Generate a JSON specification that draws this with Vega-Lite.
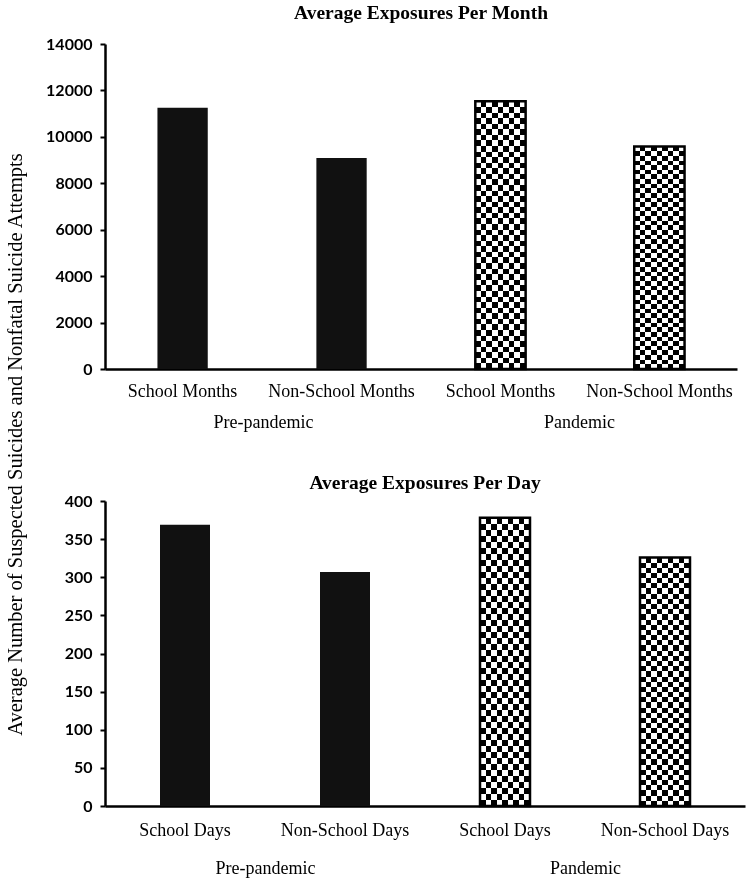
{
  "$schema": "https://vega.github.io/schema/vega-lite/v6.json",
  "background": "white",
  "padding": {"left": 5, "top": 2, "right": 4, "bottom": 2},
  "bounds": "flush",
  "spacing": 132,
  "datasets": {
    "month": [
      {"period": "Pre-pandemic", "bar": "pre:School Months", "value": 11250},
      {"period": "Pre-pandemic", "bar": "pre:Non-School Months", "value": 9090},
      {"period": "Pandemic", "bar": "pan:School Months", "value": 11530},
      {"period": "Pandemic", "bar": "pan:Non-School Months", "value": 9580}
    ],
    "day": [
      {"period": "Pre-pandemic", "bar": "pre:School Days", "value": 369},
      {"period": "Pre-pandemic", "bar": "pre:Non-School Days", "value": 307},
      {"period": "Pandemic", "bar": "pan:School Days", "value": 378},
      {"period": "Pandemic", "bar": "pan:Non-School Days", "value": 326}
    ]
  },
  "config": {
    "view": {"stroke": null},
    "axis": {"grid": false}
  },
  "vconcat": [
    {
      "data": {"name": "month"},
      "width": 632,
      "height": 325,
      "title": {"text": "Average Exposures Per Month", "font": "Liberation Serif", "fontSize": 19.5, "fontWeight": "bold", "color": "#000", "offset": 13, "frame": "group", "anchor": "middle"},
      "layer": [
        {
          "encoding": {
            "x": {"field": "bar", "type": "nominal", "scale": {"domain": ["pre:School Months", "pre:Non-School Months", "pan:School Months", "pan:Non-School Months"], "paddingInner": 0.6835, "paddingOuter": 0.33},
              "axis": {"title": null, "labelExpr": "split(datum.value, ':')[1]", "labelAngle": 0, "labelFont": "Liberation Serif", "labelFontSize": 18, "labelColor": "#000", "labelPadding": 13, "ticks": false, "tickSize": 0, "domainColor": "#000", "domainWidth": 2.5, "labelOverlap": false}},
            "y": {"field": "value", "type": "quantitative", "scale": {"domain": [0, 14000]},
              "axis": {"values": [0, 2000, 4000, 6000, 8000, 10000, 12000, 14000], "format": "d", "title": "Average Number of Suspected Suicides and Nonfatal Suicide Attempts", "titleX": -90, "titleY": 400, "titleAngle": -90, "titleAlign": "center", "titleBaseline": "middle", "titleFont": "Liberation Serif", "titleFontSize": 20.5, "titleFontWeight": "normal", "titleColor": "#000", "labelFont": "Lato", "labelFontWeight": "bold", "labelFontSize": 16, "labelColor": "#000", "labelPadding": 8, "tickSize": 5, "tickWidth": 2, "tickColor": "#000", "domainColor": "#000", "domainWidth": 2.5}}
          },
          "layer": [
            {"transform": [{"filter": "datum.period === 'Pre-pandemic'"}], "mark": {"type": "bar", "color": "#111"}},
            {"transform": [{"filter": "datum.period === 'Pandemic'"}], "mark": {"type": "bar", "fill": {"gradient": "linear", "x1": 0, "y1": 0, "x2": 1, "y2": 0, "stops": [
              {"offset": 0, "color": "#000"}, {"offset": 0.1111, "color": "#000"}, {"offset": 0.1111, "color": "#fff"}, {"offset": 0.2222, "color": "#fff"},
              {"offset": 0.2222, "color": "#000"}, {"offset": 0.3333, "color": "#000"}, {"offset": 0.3333, "color": "#fff"}, {"offset": 0.4444, "color": "#fff"},
              {"offset": 0.4444, "color": "#000"}, {"offset": 0.5556, "color": "#000"}, {"offset": 0.5556, "color": "#fff"}, {"offset": 0.6667, "color": "#fff"},
              {"offset": 0.6667, "color": "#000"}, {"offset": 0.7778, "color": "#000"}, {"offset": 0.7778, "color": "#fff"}, {"offset": 0.8889, "color": "#fff"},
              {"offset": 0.8889, "color": "#000"}, {"offset": 1, "color": "#000"}]}}},
            {"transform": [{"filter": "datum.period === 'Pandemic'"}], "mark": {"type": "bar", "blend": "difference", "fill": {"gradient": "linear", "x1": 0, "y1": 0, "x2": 0, "y2": 1, "stops": [
              {"offset": 0, "color": "#fff"}, {"offset": 0.0208, "color": "#fff"}, {"offset": 0.0208, "color": "#000"}, {"offset": 0.0417, "color": "#000"},
              {"offset": 0.0417, "color": "#fff"}, {"offset": 0.0625, "color": "#fff"}, {"offset": 0.0625, "color": "#000"}, {"offset": 0.0833, "color": "#000"},
              {"offset": 0.0833, "color": "#fff"}, {"offset": 0.1042, "color": "#fff"}, {"offset": 0.1042, "color": "#000"}, {"offset": 0.125, "color": "#000"},
              {"offset": 0.125, "color": "#fff"}, {"offset": 0.1458, "color": "#fff"}, {"offset": 0.1458, "color": "#000"}, {"offset": 0.1667, "color": "#000"},
              {"offset": 0.1667, "color": "#fff"}, {"offset": 0.1875, "color": "#fff"}, {"offset": 0.1875, "color": "#000"}, {"offset": 0.2083, "color": "#000"},
              {"offset": 0.2083, "color": "#fff"}, {"offset": 0.2292, "color": "#fff"}, {"offset": 0.2292, "color": "#000"}, {"offset": 0.25, "color": "#000"},
              {"offset": 0.25, "color": "#fff"}, {"offset": 0.2708, "color": "#fff"}, {"offset": 0.2708, "color": "#000"}, {"offset": 0.2917, "color": "#000"},
              {"offset": 0.2917, "color": "#fff"}, {"offset": 0.3125, "color": "#fff"}, {"offset": 0.3125, "color": "#000"}, {"offset": 0.3333, "color": "#000"},
              {"offset": 0.3333, "color": "#fff"}, {"offset": 0.3542, "color": "#fff"}, {"offset": 0.3542, "color": "#000"}, {"offset": 0.375, "color": "#000"},
              {"offset": 0.375, "color": "#fff"}, {"offset": 0.3958, "color": "#fff"}, {"offset": 0.3958, "color": "#000"}, {"offset": 0.4167, "color": "#000"},
              {"offset": 0.4167, "color": "#fff"}, {"offset": 0.4375, "color": "#fff"}, {"offset": 0.4375, "color": "#000"}, {"offset": 0.4583, "color": "#000"},
              {"offset": 0.4583, "color": "#fff"}, {"offset": 0.4792, "color": "#fff"}, {"offset": 0.4792, "color": "#000"}, {"offset": 0.5, "color": "#000"},
              {"offset": 0.5, "color": "#fff"}, {"offset": 0.5208, "color": "#fff"}, {"offset": 0.5208, "color": "#000"}, {"offset": 0.5417, "color": "#000"},
              {"offset": 0.5417, "color": "#fff"}, {"offset": 0.5625, "color": "#fff"}, {"offset": 0.5625, "color": "#000"}, {"offset": 0.5833, "color": "#000"},
              {"offset": 0.5833, "color": "#fff"}, {"offset": 0.6042, "color": "#fff"}, {"offset": 0.6042, "color": "#000"}, {"offset": 0.625, "color": "#000"},
              {"offset": 0.625, "color": "#fff"}, {"offset": 0.6458, "color": "#fff"}, {"offset": 0.6458, "color": "#000"}, {"offset": 0.6667, "color": "#000"},
              {"offset": 0.6667, "color": "#fff"}, {"offset": 0.6875, "color": "#fff"}, {"offset": 0.6875, "color": "#000"}, {"offset": 0.7083, "color": "#000"},
              {"offset": 0.7083, "color": "#fff"}, {"offset": 0.7292, "color": "#fff"}, {"offset": 0.7292, "color": "#000"}, {"offset": 0.75, "color": "#000"},
              {"offset": 0.75, "color": "#fff"}, {"offset": 0.7708, "color": "#fff"}, {"offset": 0.7708, "color": "#000"}, {"offset": 0.7917, "color": "#000"},
              {"offset": 0.7917, "color": "#fff"}, {"offset": 0.8125, "color": "#fff"}, {"offset": 0.8125, "color": "#000"}, {"offset": 0.8333, "color": "#000"},
              {"offset": 0.8333, "color": "#fff"}, {"offset": 0.8542, "color": "#fff"}, {"offset": 0.8542, "color": "#000"}, {"offset": 0.875, "color": "#000"},
              {"offset": 0.875, "color": "#fff"}, {"offset": 0.8958, "color": "#fff"}, {"offset": 0.8958, "color": "#000"}, {"offset": 0.9167, "color": "#000"},
              {"offset": 0.9167, "color": "#fff"}, {"offset": 0.9375, "color": "#fff"}, {"offset": 0.9375, "color": "#000"}, {"offset": 0.9583, "color": "#000"},
              {"offset": 0.9583, "color": "#fff"}, {"offset": 0.9792, "color": "#fff"}, {"offset": 0.9792, "color": "#000"}, {"offset": 1, "color": "#000"}]}}},
            {"transform": [{"filter": "datum.period === 'Pandemic'"}], "mark": {"type": "bar", "filled": false, "color": "#000", "stroke": "#000", "strokeWidth": 2.5}}
          ]
        },
        {
          "mark": {"type": "point", "opacity": 0},
          "encoding": {
            "x": {"field": "period", "type": "nominal", "scale": {"type": "point", "padding": 0.5, "domain": ["Pre-pandemic", "Pandemic"]},
              "axis": {"title": null, "orient": "bottom", "domain": false, "ticks": false, "tickSize": 0, "labelAngle": 0, "labelFont": "Liberation Serif", "labelFontSize": 18, "labelColor": "#000", "labelPadding": 44}}
          }
        }
      ],
      "resolve": {"scale": {"x": "independent"}, "axis": {"x": "independent"}}
    },
    {
      "data": {"name": "day"},
      "width": 640,
      "height": 305,
      "title": {"text": "Average Exposures Per Day", "font": "Liberation Serif", "fontSize": 19.5, "fontWeight": "bold", "color": "#000", "offset": 0, "frame": "group", "anchor": "middle"},
      "layer": [
        {
          "encoding": {
            "x": {"field": "bar", "type": "nominal", "scale": {"domain": ["pre:School Days", "pre:Non-School Days", "pan:School Days", "pan:Non-School Days"], "paddingInner": 0.6875, "paddingOuter": 0.34375},
              "axis": {"title": null, "labelExpr": "split(datum.value, ':')[1]", "labelAngle": 0, "labelFont": "Liberation Serif", "labelFontSize": 18, "labelColor": "#000", "labelPadding": 15, "ticks": false, "tickSize": 0, "domainColor": "#000", "domainWidth": 2.5, "labelOverlap": false}},
            "y": {"field": "value", "type": "quantitative", "scale": {"domain": [0, 400]},
              "axis": {"values": [0, 50, 100, 150, 200, 250, 300, 350, 400], "format": "d", "title": null, "labelFont": "Lato", "labelFontWeight": "bold", "labelFontSize": 16, "labelColor": "#000", "labelPadding": 8, "tickSize": 5, "tickWidth": 2, "tickColor": "#000", "domainColor": "#000", "domainWidth": 2.5}}
          },
          "layer": [
            {"transform": [{"filter": "datum.period === 'Pre-pandemic'"}], "mark": {"type": "bar", "color": "#111"}},
            {"transform": [{"filter": "datum.period === 'Pandemic'"}], "mark": {"type": "bar", "fill": {"gradient": "linear", "x1": 0, "y1": 0, "x2": 1, "y2": 0, "stops": [
              {"offset": 0, "color": "#000"}, {"offset": 0.1111, "color": "#000"}, {"offset": 0.1111, "color": "#fff"}, {"offset": 0.2222, "color": "#fff"},
              {"offset": 0.2222, "color": "#000"}, {"offset": 0.3333, "color": "#000"}, {"offset": 0.3333, "color": "#fff"}, {"offset": 0.4444, "color": "#fff"},
              {"offset": 0.4444, "color": "#000"}, {"offset": 0.5556, "color": "#000"}, {"offset": 0.5556, "color": "#fff"}, {"offset": 0.6667, "color": "#fff"},
              {"offset": 0.6667, "color": "#000"}, {"offset": 0.7778, "color": "#000"}, {"offset": 0.7778, "color": "#fff"}, {"offset": 0.8889, "color": "#fff"},
              {"offset": 0.8889, "color": "#000"}, {"offset": 1, "color": "#000"}]}}},
            {"transform": [{"filter": "datum.period === 'Pandemic'"}], "mark": {"type": "bar", "blend": "difference", "fill": {"gradient": "linear", "x1": 0, "y1": 0, "x2": 0, "y2": 1, "stops": [
              {"offset": 0, "color": "#fff"}, {"offset": 0.0208, "color": "#fff"}, {"offset": 0.0208, "color": "#000"}, {"offset": 0.0417, "color": "#000"},
              {"offset": 0.0417, "color": "#fff"}, {"offset": 0.0625, "color": "#fff"}, {"offset": 0.0625, "color": "#000"}, {"offset": 0.0833, "color": "#000"},
              {"offset": 0.0833, "color": "#fff"}, {"offset": 0.1042, "color": "#fff"}, {"offset": 0.1042, "color": "#000"}, {"offset": 0.125, "color": "#000"},
              {"offset": 0.125, "color": "#fff"}, {"offset": 0.1458, "color": "#fff"}, {"offset": 0.1458, "color": "#000"}, {"offset": 0.1667, "color": "#000"},
              {"offset": 0.1667, "color": "#fff"}, {"offset": 0.1875, "color": "#fff"}, {"offset": 0.1875, "color": "#000"}, {"offset": 0.2083, "color": "#000"},
              {"offset": 0.2083, "color": "#fff"}, {"offset": 0.2292, "color": "#fff"}, {"offset": 0.2292, "color": "#000"}, {"offset": 0.25, "color": "#000"},
              {"offset": 0.25, "color": "#fff"}, {"offset": 0.2708, "color": "#fff"}, {"offset": 0.2708, "color": "#000"}, {"offset": 0.2917, "color": "#000"},
              {"offset": 0.2917, "color": "#fff"}, {"offset": 0.3125, "color": "#fff"}, {"offset": 0.3125, "color": "#000"}, {"offset": 0.3333, "color": "#000"},
              {"offset": 0.3333, "color": "#fff"}, {"offset": 0.3542, "color": "#fff"}, {"offset": 0.3542, "color": "#000"}, {"offset": 0.375, "color": "#000"},
              {"offset": 0.375, "color": "#fff"}, {"offset": 0.3958, "color": "#fff"}, {"offset": 0.3958, "color": "#000"}, {"offset": 0.4167, "color": "#000"},
              {"offset": 0.4167, "color": "#fff"}, {"offset": 0.4375, "color": "#fff"}, {"offset": 0.4375, "color": "#000"}, {"offset": 0.4583, "color": "#000"},
              {"offset": 0.4583, "color": "#fff"}, {"offset": 0.4792, "color": "#fff"}, {"offset": 0.4792, "color": "#000"}, {"offset": 0.5, "color": "#000"},
              {"offset": 0.5, "color": "#fff"}, {"offset": 0.5208, "color": "#fff"}, {"offset": 0.5208, "color": "#000"}, {"offset": 0.5417, "color": "#000"},
              {"offset": 0.5417, "color": "#fff"}, {"offset": 0.5625, "color": "#fff"}, {"offset": 0.5625, "color": "#000"}, {"offset": 0.5833, "color": "#000"},
              {"offset": 0.5833, "color": "#fff"}, {"offset": 0.6042, "color": "#fff"}, {"offset": 0.6042, "color": "#000"}, {"offset": 0.625, "color": "#000"},
              {"offset": 0.625, "color": "#fff"}, {"offset": 0.6458, "color": "#fff"}, {"offset": 0.6458, "color": "#000"}, {"offset": 0.6667, "color": "#000"},
              {"offset": 0.6667, "color": "#fff"}, {"offset": 0.6875, "color": "#fff"}, {"offset": 0.6875, "color": "#000"}, {"offset": 0.7083, "color": "#000"},
              {"offset": 0.7083, "color": "#fff"}, {"offset": 0.7292, "color": "#fff"}, {"offset": 0.7292, "color": "#000"}, {"offset": 0.75, "color": "#000"},
              {"offset": 0.75, "color": "#fff"}, {"offset": 0.7708, "color": "#fff"}, {"offset": 0.7708, "color": "#000"}, {"offset": 0.7917, "color": "#000"},
              {"offset": 0.7917, "color": "#fff"}, {"offset": 0.8125, "color": "#fff"}, {"offset": 0.8125, "color": "#000"}, {"offset": 0.8333, "color": "#000"},
              {"offset": 0.8333, "color": "#fff"}, {"offset": 0.8542, "color": "#fff"}, {"offset": 0.8542, "color": "#000"}, {"offset": 0.875, "color": "#000"},
              {"offset": 0.875, "color": "#fff"}, {"offset": 0.8958, "color": "#fff"}, {"offset": 0.8958, "color": "#000"}, {"offset": 0.9167, "color": "#000"},
              {"offset": 0.9167, "color": "#fff"}, {"offset": 0.9375, "color": "#fff"}, {"offset": 0.9375, "color": "#000"}, {"offset": 0.9583, "color": "#000"},
              {"offset": 0.9583, "color": "#fff"}, {"offset": 0.9792, "color": "#fff"}, {"offset": 0.9792, "color": "#000"}, {"offset": 1, "color": "#000"}]}}},
            {"transform": [{"filter": "datum.period === 'Pandemic'"}], "mark": {"type": "bar", "filled": false, "color": "#000", "stroke": "#000", "strokeWidth": 2.5}}
          ]
        },
        {
          "mark": {"type": "point", "opacity": 0},
          "encoding": {
            "x": {"field": "period", "type": "nominal", "scale": {"type": "point", "padding": 0.5, "domain": ["Pre-pandemic", "Pandemic"]},
              "axis": {"title": null, "orient": "bottom", "domain": false, "ticks": false, "tickSize": 0, "labelAngle": 0, "labelFont": "Liberation Serif", "labelFontSize": 18, "labelColor": "#000", "labelPadding": 53}}
          }
        }
      ],
      "resolve": {"scale": {"x": "independent"}, "axis": {"x": "independent"}}
    }
  ]
}
